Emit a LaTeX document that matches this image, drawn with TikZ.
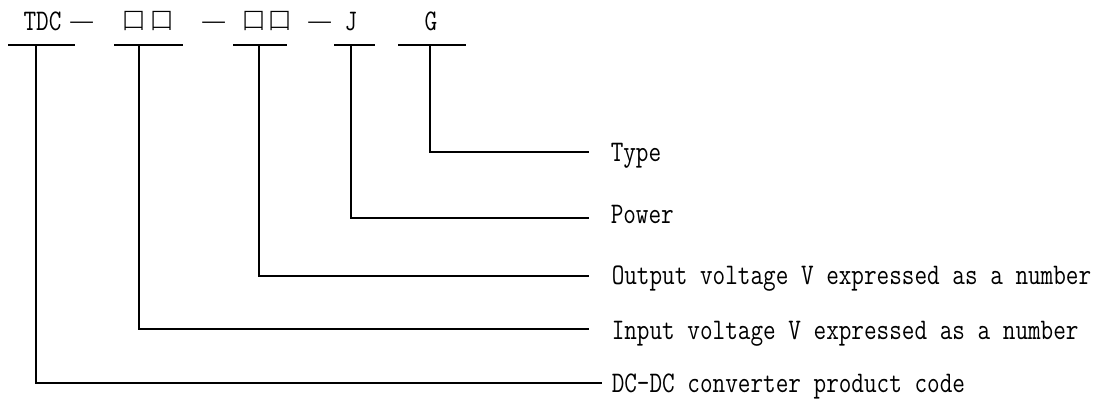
\documentclass[tikz,border=0pt]{standalone}
\usepackage{fontspec}
\IfFontExistsTF{Noto Sans CJK SC Light}{\newfontfamily\cjkfont{Noto Sans CJK SC Light}}{\newfontfamily\cjkfont{Noto Sans CJK SC}}
\newcommand{\tallt}[1]{\scalebox{1}[1.22]{#1}}
\begin{document}
\begin{tikzpicture}[x=1pt,y=-1pt,line width=1.5pt,
  lat/.style={font=\fontsize{24.5}{26}\selectfont\ttfamily,inner sep=0pt},
  cjk/.style={font=\fontsize{25}{26}\selectfont\cjkfont,inner sep=0pt},
  lbl/.style={lat,anchor=base west},
  conn/.style={line width=1.5pt}]
\useasboundingbox (0,0) rectangle (1112,406);
% top code
\node[lat,anchor=base] (tdc) at (42.5,31) {\tallt{TDC}};
\node[cjk] (d1) at (81.5,27) {一};
\node[cjk] (b1) at (134,21) {口};
\node[cjk] (b2) at (161.5,21) {口};
\node[cjk] (d2) at (213.5,27) {一};
\node[cjk] (b3) at (254,21) {口};
\node[cjk] (b4) at (280,21) {口};
\node[cjk] (d3) at (319.5,27) {一};
\node[lat,anchor=base] (j) at (351,31) {\tallt{J}};
\node[lat,anchor=base] (g) at (431,31) {\tallt{G}};
% bars
\draw (8,45) -- (75,45);
\draw (114,45) -- (183,45);
\draw (233,45) -- (287,45);
\draw (334,45) -- (375,45);
\draw (398,45) -- (466,45);
\coordinate (p1) at (36,45);
\coordinate (p2) at (139,45);
\coordinate (p3) at (259,45);
\coordinate (p4) at (351,45);
\coordinate (p5) at (430,45);
% connector ends
\coordinate (e5) at (589,152);
\coordinate (e4) at (589,218);
\coordinate (e3) at (589,276);
\coordinate (e2) at (589,329);
\coordinate (e1) at (602,383);
% labels
\node[lbl] (l5) at (610,162) {\tallt{Type}};
\node[lbl] (l4) at (610,224) {\tallt{Power}};
\node[lbl] (l3) at (611,285) {\tallt{Output voltage V expressed as a number}};
\node[lbl] (l2) at (611,339) {\tallt{Input voltage V expressed as a number}};
\node[lbl] (l1) at (611,392) {\tallt{DC-DC converter product code}};
% connectors
\draw[conn] (p5) |- (e5);
\draw[conn] (p4) |- (e4);
\draw[conn] (p3) |- (e3);
\draw[conn] (p2) |- (e2);
\draw[conn] (p1) |- (e1);
\end{tikzpicture}
\end{document}
